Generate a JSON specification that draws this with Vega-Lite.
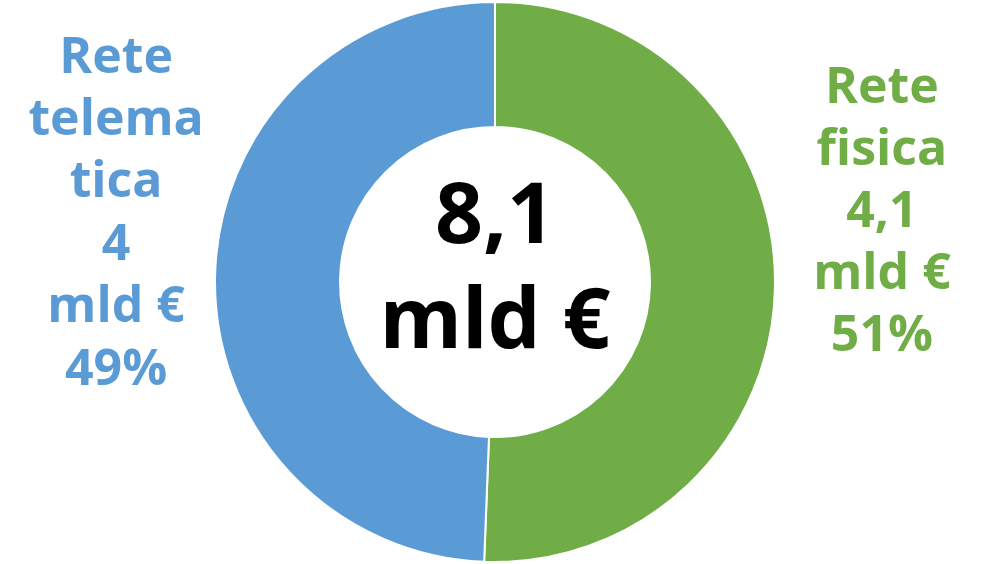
{
  "$schema": "https://vega.github.io/schema/vega-lite/v6.json",
  "width": 990,
  "height": 564,
  "padding": 0,
  "autosize": {"type": "fit", "contains": "padding"},
  "background": "white",
  "view": {"stroke": null},
  "data": {
    "values": [
      {"cat": "Rete fisica", "value": 4.1, "label": "Rete\nfisica\n4,1\nmld €\n51%"},
      {"cat": "Rete telematica", "value": 4.0, "label": "Rete\ntelema\ntica\n4\nmld €\n49%"}
    ]
  },
  "encoding": {
    "theta": {"field": "value", "type": "quantitative", "stack": true},
    "color": {
      "field": "cat",
      "type": "nominal",
      "scale": {"domain": ["Rete fisica", "Rete telematica"], "range": ["#70AD47", "#5B9BD5"]},
      "legend": null
    }
  },
  "layer": [
    {
      "mark": {"type": "arc", "outerRadius": 280, "innerRadius": 155, "stroke": "white", "strokeWidth": 2}
    },
    {
      "mark": {"type": "text", "radius": 387, "dy": -187, "baseline": "alphabetic", "align": "center", "font": "Open Sans", "fontWeight": "bold", "fontSize": 50, "lineHeight": 62, "lineBreak": "\n"},
      "encoding": {
        "text": {"condition": {"test": "datum.cat === 'Rete fisica'", "field": "label"}, "value": ""}
      }
    },
    {
      "mark": {"type": "text", "radius": 379, "dy": -202, "baseline": "alphabetic", "align": "center", "font": "Open Sans", "fontWeight": "bold", "fontSize": 50, "lineHeight": 62.4, "lineBreak": "\n"},
      "encoding": {
        "text": {"condition": {"test": "datum.cat === 'Rete telematica'", "field": "label"}, "value": ""}
      }
    },
    {
      "data": {"values": [{"total": "8,1\nmld €"}]},
      "mark": {"type": "text", "dy": -39, "baseline": "alphabetic", "align": "center", "font": "Open Sans", "fontWeight": "bold", "fontSize": 84, "lineHeight": 105, "lineBreak": "\n", "color": "black"},
      "encoding": {
        "theta": null,
        "color": null,
        "text": {"field": "total", "type": "nominal"}
      }
    }
  ]
}
